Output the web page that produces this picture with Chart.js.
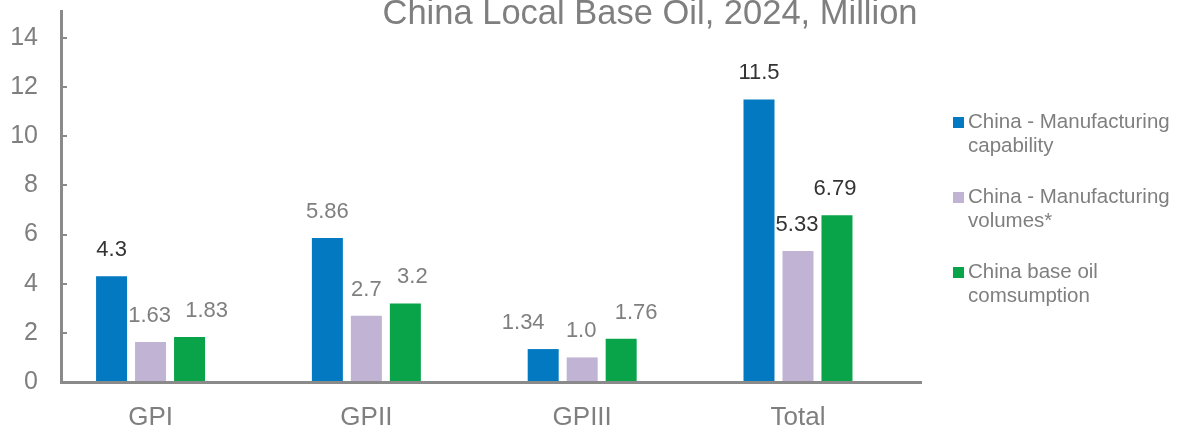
<!DOCTYPE html>
<html>
<head>
<meta charset="utf-8">
<title>China Local Base Oil, 2024, Million</title>
<script src="https://cdn.jsdelivr.net/npm/chart.js@4.4.1/dist/chart.umd.min.js"></script>
<style>
  body { margin: 0; background: #fff; font-family: "Liberation Sans", Arial, sans-serif; }
  #wrap { position: relative; width: 1181px; height: 430px; }
  #legend { position: absolute; left: 953px; top: 109px; width: 226px; color: #7f7f7f; font-size: 20.5px; line-height: 23.5px; }
  .item { display: flex; align-items: flex-start; margin-bottom: 28px; }
  .swatch { width: 11px; height: 11px; margin-top: 7.5px; margin-right: 4px; flex: none; }
</style>
</head>
<body>
<div id="wrap">
  <canvas id="oilChart" width="1181" height="430"></canvas>
  <div id="legend"></div>
</div>
<script>
const titleText = 'China Local Base Oil, 2024, Million';
const categories = ['GPI', 'GPII', 'GPIII', 'Total'];
const seriesNames = ['China - Manufacturing capability', 'China - Manufacturing volumes*', 'China base oil comsumption'];
const capability = [4.3, 5.86, 1.34, 11.5];
const volumes = [1.63, 2.7, 1.0, 5.33];
const consumption = [1.83, 3.2, 1.76, 6.79];
const yTicks = [0, 2, 4, 6, 8, 10, 12, 14];

const colors = ['#0279c1', '#c1b3d4', '#09a44a'];
const gray = '#7f7f7f';
const axisGray = '#8a8a8a';
const font = '"Liberation Sans", Arial, sans-serif';
// which value labels are drawn in the dark colour
const darkLabels = [
    [true, false, false, true],
    [false, false, false, true],
    [false, false, false, true]
];
// small sideways nudges so neighbouring value labels do not collide
const labelNudge = [
    [0, 0, -20, 0],
    [-1, 0, -1, -1],
    [17, 7, 15, -2]
];

function fmt(v) {
    return Number.isInteger(v) ? v.toFixed(1) : String(v);
}

const barLabels = {
    id: 'barLabels',
    afterDatasetsDraw(chart) {
        const ctx = chart.ctx;
        ctx.save();
        ctx.font = '22px ' + font;
        ctx.textAlign = 'center';
        ctx.textBaseline = 'alphabetic';
        chart.data.datasets.forEach((ds, di) => {
            chart.getDatasetMeta(di).data.forEach((bar, i) => {
                ctx.fillStyle = darkLabels[di][i] ? '#333333' : gray;
                ctx.fillText(fmt(ds.data[i].y), bar.x + labelNudge[di][i], bar.y - 20);
            });
        });
        ctx.restore();
    }
};

const chartTitle = {
    id: 'chartTitle',
    afterDraw(chart) {
        const ctx = chart.ctx;
        ctx.save();
        ctx.font = '34.5px ' + font;
        ctx.fillStyle = gray;
        ctx.textAlign = 'center';
        ctx.textBaseline = 'alphabetic';
        ctx.fillText(titleText, 650, 24);
        ctx.restore();
    }
};

const seriesData = [capability, volumes, consumption];
const datasets = seriesData.map((vals, s) => ({
    label: seriesNames[s],
    data: vals.map((v, i) => ({ x: i, y: v })),
    backgroundColor: colors[s],
    categoryPercentage: 0.542,
    barPercentage: 0.795
}));

new Chart(document.getElementById('oilChart'), {
    type: 'bar',
    data: { datasets: datasets },
    options: {
        responsive: false,
        animation: false,
        layout: { autoPadding: false, padding: { top: 11, right: 260, left: 0, bottom: 0 } },
        plugins: {
            legend: { display: false },
            tooltip: { enabled: false },
            title: { display: false }
        },
        scales: {
            x: {
                type: 'linear',
                offset: false,
                min: -0.415,
                max: 3.57,
                afterBuildTicks: s => { s.ticks = categories.map((c, i) => ({ value: i })); },
                afterFit: s => { s.height = 48; s.paddingLeft = 0; s.paddingRight = 0; },
                grid: { display: false, drawTicks: false, offset: false },
                border: { display: true, color: axisGray, width: 3 },
                ticks: {
                    callback: v => categories[v],
                    color: gray,
                    font: { size: 26, family: font },
                    padding: 20,
                    maxRotation: 0,
                    autoSkip: false
                }
            },
            y: {
                min: 0,
                max: 15.1,
                afterBuildTicks: s => { s.ticks = yTicks.map(v => ({ value: v })); },
                afterFit: s => { s.width = 61; s.paddingTop = 0; s.paddingBottom = 0; },
                grid: { drawOnChartArea: false, drawTicks: true, tickLength: -6, color: axisGray, lineWidth: 2 },
                border: { display: true, color: axisGray, width: 3 },
                ticks: {
                    color: gray,
                    font: { size: 25, family: font },
                    padding: 29
                }
            }
        }
    },
    plugins: [barLabels, chartTitle]
});

// legend on the right
const legend = document.getElementById('legend');
seriesNames.forEach((name, s) => {
    const item = document.createElement('div');
    item.className = 'item';
    item.innerHTML = `<span class="swatch" style="background:${colors[s]}"></span><span>${name}</span>`;
    legend.appendChild(item);
});
</script>
</body>
</html>
